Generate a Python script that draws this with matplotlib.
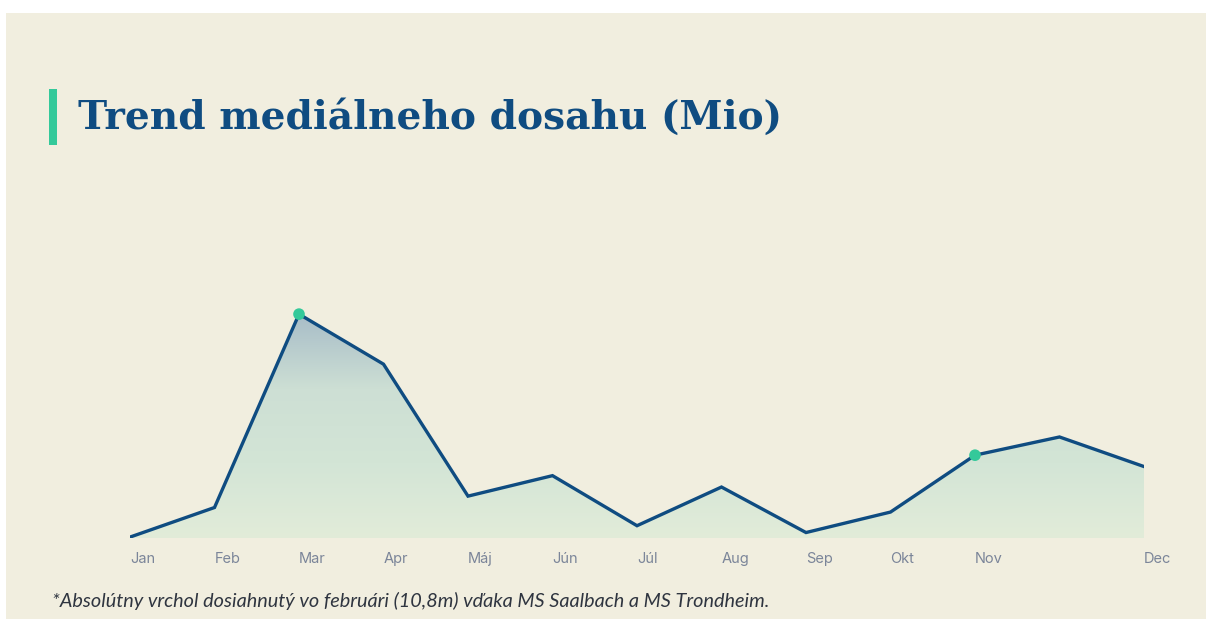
import matplotlib.pyplot as plt
import numpy as np
from matplotlib.patches import Rectangle
from matplotlib.colors import LinearSegmentedColormap

# Mesačný mediálny dosah (Mio), odčítané z grafu
values = [1.0, 2.3, 10.8, 8.6, 2.8, 3.7, 1.5, 3.2, 1.2, 2.1, 4.6, 5.4, 4.1]
month_labels = ['Jan', 'Feb', 'Mar', 'Apr', 'Máj', 'Jún', 'Júl', 'Aug', 'Sep', 'Okt', 'Nov', '', 'Dec']
highlight_idx = [2, 10]

title = 'Trend mediálneho dosahu (Mio)'
note = '*Absolútny vrchol dosiahnutý vo februári (10,8m) vďaka MS Saalbach a MS Trondheim.'

W, H = 1206, 619
bg = '#f1eedf'
navy = '#0f4c81'
green = '#34c99a'

fig = plt.figure(figsize=(W / 100, H / 100), dpi=100)
fig.patch.set_facecolor('white')
# karta s pozadím
fig.patches.append(Rectangle((6 / W, 0), 1 - 6 / W, 1 - 13 / H, transform=fig.transFigure,
                             facecolor=bg, edgecolor='none', zorder=-10))

# zelený pásik pred nadpisom
fig.patches.append(Rectangle((49 / W, 1 - 145 / H), 8 / W, 56 / H, transform=fig.transFigure,
                             facecolor=green, edgecolor='none', zorder=-5))
fig.text(78 / W, 1 - 118 / H, title, fontsize=28.2, fontweight='bold', family='DejaVu Serif',
         color=navy, va='center', ha='left')

# osi: x 130..1144, y 538..300 px
ax = fig.add_axes([130 / W, 1 - 538 / H, (1144 - 130) / W, (538 - 300) / H])
ax.set_facecolor('none')
ax.set_zorder(2)
x = np.arange(len(values))
y0 = 0.96
ax.set_xlim(0, len(values) - 1)
ax.set_ylim(y0, 11.42)

# gradientná výplň pod čiarou
poly = ax.fill_between(x, values, y0, color='none', lw=0)
cmap = LinearSegmentedColormap.from_list('grad', ['#e2ecd9', '#d3e5d6', '#cddfd4', '#a8bdc8'])
grad = np.linspace(0, 1, 256).reshape(-1, 1)
img = ax.imshow(grad, cmap=cmap, origin='lower', aspect='auto',
                extent=[0, len(values) - 1, y0, max(values)], zorder=1)
path = poly.get_paths()[0]
img.set_clip_path(path, transform=ax.transData)

ax.plot(x, values, color=navy, lw=2.4, zorder=3, solid_joinstyle='miter')
ax.scatter(x[highlight_idx], np.array(values)[highlight_idx], s=70, color=green,
           zorder=4, edgecolors='none')

for s in ax.spines.values():
    s.set_visible(False)
ax.set_yticks([])
ax.set_xticks([])
for i, lab in enumerate(month_labels):
    if lab:
        ax.annotate(lab, (i, y0), xytext=(0, -15), textcoords='offset points',
                    ha='left', va='center', fontsize=10.5, family='Inter', color='#7b8599',
                    annotation_clip=False)

fig.text(52 / W, 1 - 601 / H, note, fontsize=14.3, style='italic', family='Lato',
         color='#2f3540', va='center', ha='left')

fig.savefig('out.png', dpi=100, facecolor=fig.get_facecolor())
